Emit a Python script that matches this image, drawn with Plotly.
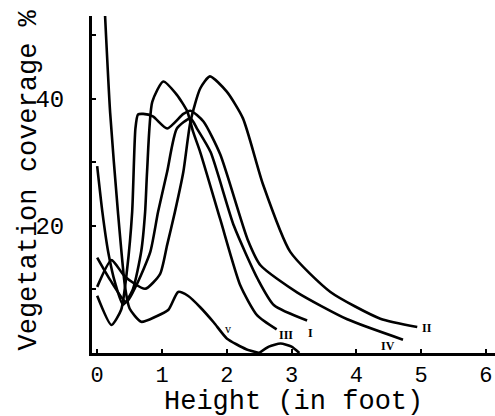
import plotly.graph_objects as go

# ---- data (height in feet, coverage %) ----
I_x = [0.0, 0.2, 0.45, 0.62, 0.82, 0.94, 1.08, 1.23, 1.44, 1.54, 1.75, 2.11, 2.48, 2.73, 3.24]
I_y = [15.0, 11.5, 8.0, 11.0, 15.9, 22.2, 28.5, 35.3, 36.9, 35.3, 31.6, 20.0, 11.6, 7.5, 5.1]

II_x = [0.0, 0.22, 0.43, 0.74, 0.97, 1.08, 1.2, 1.33, 1.44, 1.59, 1.74, 2.0, 2.25, 2.56, 2.98, 3.6, 4.37, 4.94]
II_y = [10.4, 14.6, 12.0, 10.1, 12.4, 17.0, 22.2, 28.5, 36.4, 41.6, 43.5, 41.1, 36.9, 26.5, 15.9, 9.6, 5.4, 4.1]

III_x = [0.0, 0.08, 0.17, 0.28, 0.4, 0.55, 0.68, 0.74, 0.77, 0.85, 1.02, 1.23, 1.39, 1.48, 1.59, 1.9, 2.21, 2.47, 2.77]
III_y = [29.4, 22.2, 15.9, 10.9, 7.6, 10.0, 16.0, 22.2, 28.5, 39.5, 42.7, 40.6, 38.0, 34.8, 31.6, 21.0, 10.6, 5.9, 3.7]

IV_x = [0.0, 0.22, 0.37, 0.46, 0.54, 0.59, 0.63, 0.71, 0.86, 1.08, 1.33, 1.44, 1.64, 1.9, 2.32, 2.52, 3.09, 3.86, 4.72]
IV_y = [9.0, 4.4, 6.8, 13.0, 22.2, 35.3, 37.5, 37.6, 37.2, 35.3, 37.6, 38.1, 36.4, 31.2, 17.9, 13.8, 9.5, 5.3, 2.1]

V_x = [0.12, 0.2, 0.32, 0.43, 0.5, 0.68, 0.9, 1.1, 1.25, 1.4, 1.59, 1.8, 2.0, 2.3, 2.5]
V_y = [53.4, 37.8, 22.2, 10.4, 7.0, 4.9, 5.7, 6.8, 9.6, 9.0, 7.2, 4.8, 2.3, 0.6, 0.0]

V2_x = [2.5, 2.65, 2.83, 3.0, 3.12]
V2_y = [0.0, 1.0, 1.5, 1.0, 0.0]

x_ticks = [0, 1, 2, 3, 4, 5, 6]
x_ticklabels = ["0", "1", "2", "3", "4", "5", "6"]
y_ticks = [10, 20, 30, 40, 50]
y_ticklabels = ["", "20", "", "40", ""]

series = [
    ("I", I_x, I_y),
    ("II", II_x, II_y),
    ("III", III_x, III_y),
    ("IV", IV_x, IV_y),
    ("V", V_x, V_y),
]

FONT = "Liberation Mono, Courier New, monospace"
LINE = dict(color="black", width=2.6, shape="spline", smoothing=0.6)

fig = go.Figure()
for name, xs, ys in series:
    fig.add_trace(go.Scatter(x=xs, y=ys, mode="lines", name=name, line=LINE))
fig.add_trace(go.Scatter(x=V2_x, y=V2_y, mode="lines", name="V", line=LINE, showlegend=False))

# curve labels placed relative to the series' own points (pixel offsets only)
label_style = dict(showarrow=False, font=dict(family="Liberation Serif, serif", size=12, color="black"))
fig.add_annotation(x=I_x[-1], y=I_y[-1], text="<b>I</b>", xshift=3, yshift=-12, **label_style)
fig.add_annotation(x=II_x[-1], y=II_y[-1], text="<b>II</b>", xshift=10, yshift=-1, **label_style)
fig.add_annotation(x=III_x[-1], y=III_y[-1], text="<b>III</b>", xshift=9, yshift=-6, **label_style)
fig.add_annotation(x=IV_x[-1], y=IV_y[-1], text="<b>IV</b>", xshift=-15, yshift=-6, **label_style)
fig.add_annotation(x=V_x[-3], y=V_y[-3], text="v", xshift=1, yshift=9, **label_style)

# axis titles as paper-anchored annotations for exact placement
fig.add_annotation(x=0.5, y=0, xref="paper", yref="paper", text="Height (in foot)",
                   showarrow=False, yanchor="middle", yshift=-49,
                   font=dict(family=FONT, size=27, color="black"))
fig.add_annotation(x=0, y=0.5, xref="paper", yref="paper", text="Vegetation coverage %",
                   showarrow=False, textangle=-90, xanchor="center", xshift=-64, yshift=4,
                   font=dict(family=FONT, size=27, color="black"))

fig.update_layout(
    width=495, height=416,
    margin=dict(l=92, r=0, t=16, b=63, autoexpand=False),
    paper_bgcolor="white", plot_bgcolor="white",
    showlegend=False,
    font=dict(family=FONT, color="black"),
)
fig.update_xaxes(
    range=[-0.08, 6.14], tickvals=x_ticks, ticktext=x_ticklabels, automargin=False,
    showgrid=False, zeroline=False, showline=True, linecolor="black", linewidth=3,
    ticks="inside", ticklen=4, tickwidth=2, tickcolor="black",
    tickfont=dict(family=FONT, size=22, color="black"), ticklabelstandoff=0,
)
fig.update_yaxes(
    range=[0, 53], tickvals=y_ticks, ticktext=y_ticklabels, automargin=False,
    showgrid=False, zeroline=False, showline=True, linecolor="black", linewidth=3,
    ticks="inside", ticklen=4, tickwidth=2, tickcolor="black",
    tickfont=dict(family=FONT, size=24, color="black"), ticklabelstandoff=20,
)

fig.write_html("out.html", config={"displayModeBar": False},
               post_script="document.body.style.margin='0';")
